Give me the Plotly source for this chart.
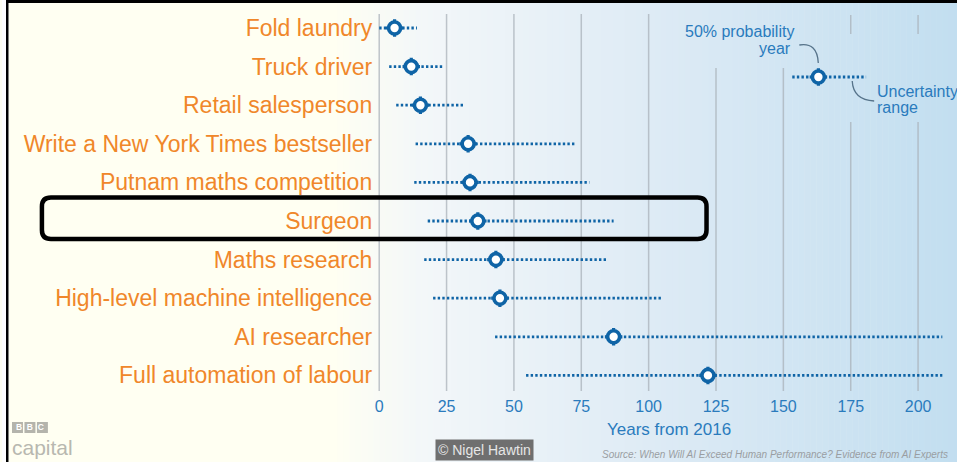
import plotly.graph_objects as go

# Survey results: years from 2016 until AI outperforms humans at each task
categories = [
    "Fold laundry",
    "Truck driver",
    "Retail salesperson",
    "Write a New York Times bestseller",
    "Putnam maths competition",
    "Surgeon",
    "Maths research",
    "High-level machine intelligence",
    "AI researcher",
    "Full automation of labour",
]
median_year = [5.7, 11.9, 15.3, 33, 33.7, 36.6, 43.3, 44.8, 87, 122]
range_low = [0, 3.7, 6.3, 13.5, 13, 18, 16.7, 20, 43, 54.5]
range_high = [14, 23.7, 31.5, 73, 78, 87, 85, 105, 209, 209]

x_ticks = [0, 25, 50, 75, 100, 125, 150, 175, 200]

# Key example (50% year with its uncertainty range)
key_low, key_median, key_high = 153.3, 163, 180.7
key_row = 1.27

W, H = 957, 462
BLUE = "#0f64a6"
ORANGE = "#f0872a"
TEXT_BLUE = "#2a7bbd"


def px(x):
    return x / W


def py(y):
    return 1 - y / H


def lerp(c0, c1, t):
    return tuple(round(a + (b - a) * t) for a, b in zip(c0, c1))


fig = go.Figure()

# Dotted uncertainty ranges
rx, ry = [], []
for i, (lo, hi) in enumerate(zip(range_low, range_high)):
    rx += [lo, hi, None]
    ry += [i, i, None]
rx += [key_low, key_high]
ry += [key_row, key_row]
fig.add_trace(go.Scatter(
    x=rx, y=ry, mode="lines",
    line=dict(color=BLUE, width=2.8, dash="2.4px,2.2px"),
    hoverinfo="skip", showlegend=False,
))

mx = median_year + [key_median]
my = list(range(len(categories))) + [key_row]

# Small teeth around each ring
fig.add_trace(go.Scatter(
    x=mx, y=my, mode="markers",
    marker=dict(symbol="cross-thin", size=12.5, line=dict(color=BLUE, width=3.2)),
    hoverinfo="skip", showlegend=False,
))
# 50% probability year rings
fig.add_trace(go.Scatter(
    x=mx, y=my, mode="markers",
    marker=dict(symbol="circle", size=12, color="white",
                line=dict(color=BLUE, width=3.6)),
    showlegend=False,
))

shapes = []

# Background: cream on the left fading into pale blue on the right
stops = [(0, (255, 255, 242)), (330, (255, 255, 242)), (420, (243, 247, 249)),
         (650, (222, 235, 245)), (957, (194, 222, 240))]
step = 6
x = 330
while x < W:
    xm = x + step / 2
    for (a, ca), (b, cb) in zip(stops[:-1], stops[1:]):
        if a <= xm <= b:
            c = lerp(ca, cb, (xm - a) / (b - a))
            break
    shapes.append(dict(type="rect", xref="paper", yref="paper",
                       x0=px(x), x1=px(min(x + step + 0.5, W)), y0=0, y1=1,
                       fillcolor="rgb(%d,%d,%d)" % c, line=dict(width=0),
                       layer="below"))
    x += step

# Vertical grid lines, interrupted around the key
grid_segments = {
    0: [(14, 391)], 25: [(14, 391)], 50: [(14, 391)], 75: [(14, 391)],
    100: [(14, 391)], 125: [(68, 391)], 150: [(68, 391)],
    175: [(15, 34), (122, 391)], 200: [(15, 34), (122, 391)],
}
for v, segs in grid_segments.items():
    for a, b in segs:
        shapes.append(dict(type="line", xref="x", yref="paper",
                           x0=v, x1=v, y0=py(a), y1=py(b),
                           line=dict(color="rgba(170,178,186,0.75)", width=1.5),
                           layer="below"))

# Key connectors
shapes.append(dict(type="path", xref="paper", yref="paper",
                   path="M %f,%f Q %f,%f %f,%f" % (px(799), py(45), px(817), py(42),
                                                 px(818), py(63)),
                   line=dict(color="#56738a", width=1.3)))
shapes.append(dict(type="path", xref="paper", yref="paper",
                   path="M %f,%f Q %f,%f %f,%f" % (px(852), py(81), px(853), py(100),
                                                 px(874), py(101)),
                   line=dict(color="#56738a", width=1.3)))

# Highlight box around one row
x0b, x1b, y0b, y1b, r = 40, 706, 197.5, 239, 9
path = (
    f"M {px(x0b + r)},{py(y0b)} L {px(x1b - r)},{py(y0b)} "
    f"Q {px(x1b)},{py(y0b)} {px(x1b)},{py(y0b + r)} "
    f"L {px(x1b)},{py(y1b - r)} Q {px(x1b)},{py(y1b)} {px(x1b - r)},{py(y1b)} "
    f"L {px(x0b + r)},{py(y1b)} Q {px(x0b)},{py(y1b)} {px(x0b)},{py(y1b - r)} "
    f"L {px(x0b)},{py(y0b + r)} Q {px(x0b)},{py(y0b)} {px(x0b + r)},{py(y0b)} Z"
)
shapes.append(dict(type="path", xref="paper", yref="paper", path=path,
                   line=dict(color="black", width=4.5)))

# Frame edges
shapes.append(dict(type="rect", xref="paper", yref="paper",
                   x0=px(4), x1=1, y0=py(3), y1=1,
                   fillcolor="black", line=dict(width=0)))
shapes.append(dict(type="rect", xref="paper", yref="paper",
                   x0=px(4), x1=px(6.5), y0=0, y1=1,
                   fillcolor="black", line=dict(width=0)))
shapes.append(dict(type="rect", xref="paper", yref="paper",
                   x0=0, x1=px(4), y0=0, y1=1,
                   fillcolor="white", line=dict(width=0)))

# Logo blocks
for k in range(3):
    bx = 10 + k * 12.5
    shapes.append(dict(type="rect", xref="paper", yref="paper",
                       x0=px(bx), x1=px(bx + 11), y0=py(433), y1=py(422),
                       fillcolor="#b4b4ac", line=dict(width=0)))


def note(text, x, y, size, color, xanchor="center", yanchor="middle", **kw):
    return dict(text=text, x=px(x), y=py(y), xref="paper", yref="paper",
                xanchor=xanchor, yanchor=yanchor, showarrow=False,
                font=dict(size=size, color=color), **kw)


annotations = [
    note("Years from 2016", 668, 429, 17, TEXT_BLUE),
    note("50% probability", 796, 31, 16, TEXT_BLUE, xanchor="right"),
    note("year", 793, 48, 16, TEXT_BLUE, xanchor="right"),
    note("Uncertainty", 875, 91, 16, TEXT_BLUE, xanchor="left"),
    note("range", 875, 108, 16, TEXT_BLUE, xanchor="left"),
    note("<i>Source: When Will AI Exceed Human Performance? Evidence from AI Experts</i>",
         950, 454, 10, "#9a9ea2", xanchor="right"),
    note("© Nigel Hawtin", 484, 450, 14, "#e6e6e6", bgcolor="#6f6f6f", borderpad=2),
    note("capital", 8, 433.5, 21, "#b8b8b0", xanchor="left", yanchor="top"),
    note("<b>B&nbsp;&nbsp;B&nbsp;&nbsp;C</b>", 28.5, 427.2, 8.5, "white"),
]

fig.update_layout(
    width=W, height=H,
    margin=dict(l=0, r=0, t=0, b=0),
    paper_bgcolor="#fffff2",
    plot_bgcolor="rgba(0,0,0,0)",
    font=dict(family="Liberation Sans, Arial, sans-serif"),
    xaxis=dict(
        domain=[px(376), 1],
        range=[(376 - 378) / 2.7, (957 - 378) / 2.7],
        tickvals=x_ticks, ticks="", showgrid=False, zeroline=False,
        showline=False, tickfont=dict(size=16, color=TEXT_BLUE),
    ),
    yaxis=dict(
        domain=[py(394.7), py(8.7)],
        range=[9.5, -0.5],
        tickvals=list(range(len(categories))), ticktext=categories,
        ticks="", showgrid=False, zeroline=False, showline=False,
        ticklabelstandoff=4,
        tickfont=dict(size=23, color=ORANGE),
    ),
    shapes=shapes,
    annotations=annotations,
    showlegend=False,
)

fig.write_html("out.html")
